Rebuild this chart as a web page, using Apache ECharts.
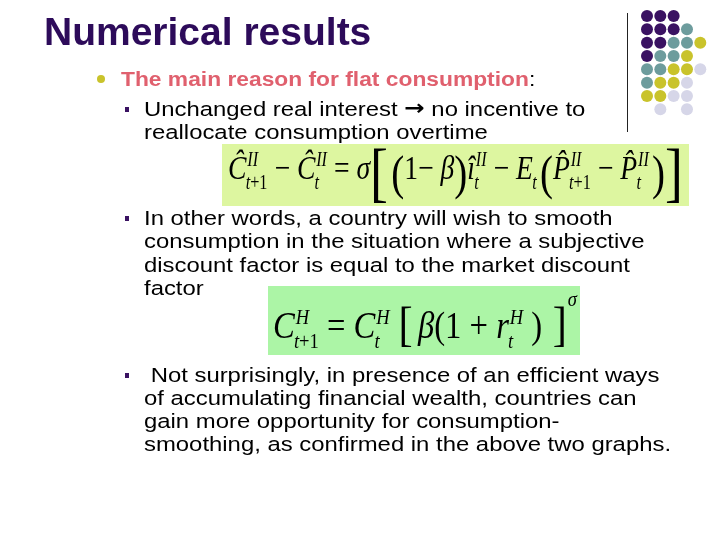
<!DOCTYPE html>
<html>
<head>
<meta charset="utf-8">
<script src="https://cdn.jsdelivr.net/npm/echarts@6/dist/echarts.min.js"></script>
<style>
html, body { margin: 0; padding: 0; background: #fff; }
#main { width: 720px; height: 540px; }
</style>
</head>
<body>
<div id="main"></div>
<script>
// corner decoration, one letter per dot: P purple, T teal, Y olive, L lilac, . empty
var dotRows = ['PPP..', 'PPPT.', 'PPTTY', 'PTTY.', 'TTYYL', 'TYYL.', 'YYLL.', '.L.L.'];
var dotColors = { P: '#3a1262', T: '#6d9c9d', Y: '#c9c32b', L: '#d6d6e8' };

var titleText = 'Numerical results';
var headText = 'The main reason for flat consumption';
var lines1 = ['Unchanged real interest \u2192 no incentive to', 'reallocate consumption overtime'];
var lines2 = ['In other words, a country will wish to smooth',
              'consumption in the situation where a subjective',
              'discount factor is equal to the market discount',
              'factor'];
var lines3 = [' Not surprisingly, in presence of an efficient ways',
              'of accumulating financial wealth, countries can',
              'gain more opportunity for consumption-',
              'smoothing, as confirmed in the above two graphs.'];

// formulas, as atoms: base text, scripts, optional size / vertical shift
var formula1 = [
    { b: '\u0108', sup: 'II', sub: 't+1' },
    { b: ' \u2212 ' },
    { b: '\u0108', sup: 'II', sub: 't' },
    { b: ' = ' },
    { b: '\u03c3' },
    { b: '[', size: 66, dy: 17, pad: 4 },
    { b: '(', size: 48, dy: 11 },
    { b: '1\u2212 \u03b2' },
    { b: ')', size: 48, dy: 11 },
    { b: '\u00ee', sup: 'II', sub: 't' },
    { b: ' \u2212 ' },
    { b: 'E', sub: 't', pad: 4 },
    { b: '(', size: 48, dy: 11 },
    { b: 'P\u0302', sup: 'II', sub: 't+1' },
    { b: ' \u2212 ' },
    { b: 'P\u0302', sup: 'II', sub: 't', pad: 4 },
    { b: ')', size: 48, dy: 11 },
    { b: ']', size: 66, dy: 17 }
];
var formula2 = [
    { b: 'C', sup: 'H', sub: 't+1' },
    { b: ' = ' },
    { b: 'C', sup: 'H', sub: 't', pad: 10 },
    { b: '[', size: 48, dy: 3, pad: 6 },
    { b: '\u03b2(1 + ' },
    { b: 'r', sup: 'H', sub: 't' },
    { b: ' )', pad: 12 },
    { b: ']', size: 48, dy: 3, sup: '\u03c3', supDy: -33 }
];

var SERIF = '"Liberation Serif", "Times New Roman", serif';
var SANS = '"Liberation Sans", Arial, sans-serif';

var mctx = document.createElement('canvas').getContext('2d');
function measure(s, size, italic) {
    mctx.font = (italic ? 'italic ' : '') + size + 'px ' + SERIF;
    return mctx.measureText(s).width;
}

// letters italic, digits and operators upright
function splitRuns(s) {
    var out = [], m;
    var re = /([A-Za-z\u00C0-\u024F\u0370-\u03FF\u0302]+)|([^A-Za-z\u00C0-\u024F\u0370-\u03FF\u0302]+)/g;
    while ((m = re.exec(s))) out.push({ s: m[0], it: !!m[1] });
    return out;
}

function putRuns(els, s, x, base, size, forceUp) {
    splitRuns(s).forEach(function (r) {
        var it = r.it && !forceUp;
        els.push({
            type: 'text', x: x, y: base - size * 0.34,
            style: {
                text: r.s, fontFamily: SERIF, fontSize: size,
                fontStyle: it ? 'italic' : 'normal', fill: '#000',
                align: 'left', verticalAlign: 'middle'
            }
        });
        x += measure(r.s, size, it);
    });
    return x;
}

function buildFormula(atoms, size, x0, base, targetW) {
    var els = [], x = 0, ss = Math.round(size * 0.58);
    atoms.forEach(function (a) {
        var sz = a.size || size;
        x = putRuns(els, a.b, x, a.dy || 0, sz, !!a.size);
        if (a.sup || a.sub) {
            var x1 = a.sup ? putRuns(els, a.sup, x + 1, a.supDy != null ? a.supDy : -size * 0.42, ss) : x;
            var x2 = a.sub ? putRuns(els, a.sub, x - 1, size * 0.24, ss) : x;
            x = Math.max(x1, x2);
        }
        x += a.pad || 0;
    });
    return { type: 'group', x: x0, y: base, scaleX: targetW / x, children: els };
}

// the slide's text is set wide, so stretch it a little
var STRETCH = 1.165;

function lineTexts(lines, x, y0, step) {
    return lines.map(function (t, i) {
        return {
            type: 'text', x: x, y: y0 + i * step, scaleX: STRETCH,
            style: {
                text: '{n|' + t.replace('\u2192', '}{a|\u2192}{n|') + '}',
                verticalAlign: 'middle',
                rich: {
                    n: { fontFamily: SANS, fontSize: 20.5, lineHeight: 24, fill: '#000' },
                    a: { fontFamily: '"DejaVu Sans", sans-serif', fontSize: 21, fontWeight: 'bold', lineHeight: 24, fill: '#000' }
                }
            }
        };
    });
}

function square(x, y) {
    return { type: 'rect', shape: { x: x - 2, y: y - 2, width: 4, height: 5 }, style: { fill: '#3a1262' } };
}

var dotData = {};
dotRows.forEach(function (row, r) {
    row.split('').forEach(function (k, c) {
        if (dotColors[k]) (dotData[k] = dotData[k] || []).push([c, r]);
    });
});

var chart = echarts.init(document.getElementById('main'));

var graphics = [
    { type: 'text', x: 44, y: 34, style: { text: titleText, fontFamily: SANS, fontSize: 39, fontWeight: 'bold', fill: '#2d0b5a', verticalAlign: 'middle' } },
    { type: 'line', shape: { x1: 627.5, y1: 13, x2: 627.5, y2: 132 }, style: { stroke: '#222', lineWidth: 1 } },
    { type: 'circle', shape: { cx: 101, cy: 79, r: 4 }, style: { fill: '#c9c32b' } },
    {
        type: 'text', x: 121, y: 80, scaleX: 1.14,
        style: {
            text: '{h|' + headText + '}{c|:}', verticalAlign: 'middle',
            rich: {
                h: { fontFamily: SANS, fontSize: 20, fontWeight: 'bold', fill: '#e0606e' },
                c: { fontFamily: SANS, fontSize: 20, fill: '#000' }
            }
        }
    },
    square(127, 109),
    square(127, 218),
    square(127, 375),
    { type: 'rect', shape: { x: 222, y: 144, width: 467, height: 62 }, style: { fill: '#ddf6a0' } },
    { type: 'rect', shape: { x: 268, y: 286, width: 312, height: 69 }, style: { fill: '#acf5a6' } },
    buildFormula(formula1, 34, 228, 182, 455),
    buildFormula(formula2, 37, 273, 341, 304)
].concat(lineTexts(lines1, 144, 110, 23), lineTexts(lines2, 144, 219.5, 23.2), lineTexts(lines3, 144, 376, 23));

chart.setOption({
    animation: false,
    backgroundColor: '#fff',
    grid: { left: 647, top: 16, width: 53.3, height: 93.3 },
    xAxis: { type: 'value', min: 0, max: 4, show: false },
    yAxis: { type: 'value', min: 0, max: 7, inverse: true, show: false },
    series: Object.keys(dotColors).map(function (k) {
        return {
            type: 'scatter', name: k, data: dotData[k], symbolSize: 12,
            itemStyle: { color: dotColors[k], opacity: 1 }, silent: true
        };
    }),
    graphic: graphics
});

window.addEventListener('resize', function () {
    chart.resize();
});
</script>
</body>
</html>
